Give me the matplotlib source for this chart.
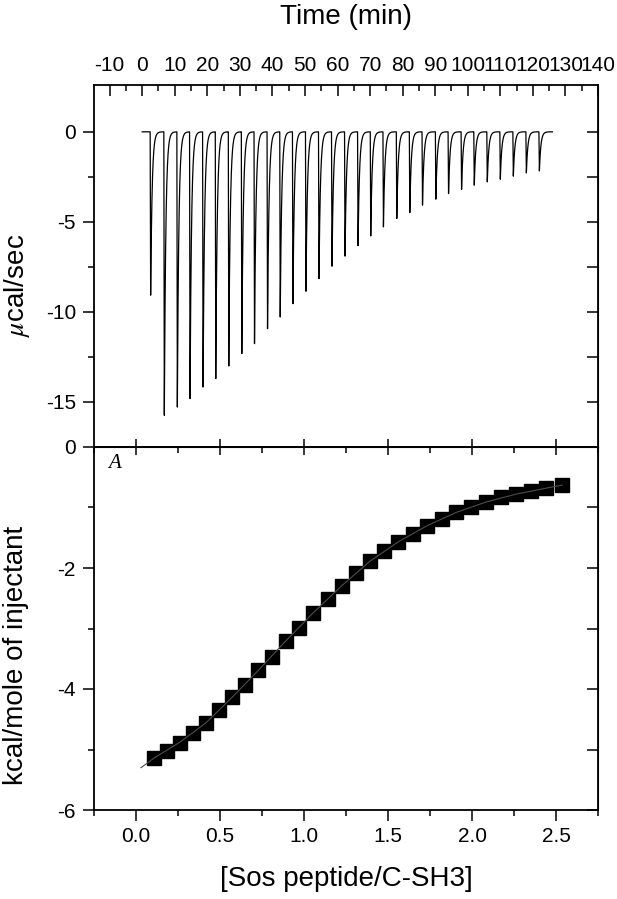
import numpy as np
import matplotlib
matplotlib.use("Agg")
import matplotlib.pyplot as plt
from matplotlib.ticker import MultipleLocator, FixedLocator

# raw ITC trace: injection times (min) and peak minima (ucal/sec)
inj_time = [2.6, 6.8, 10.8, 14.7, 18.7, 22.6, 26.6, 30.6, 34.5, 38.5, 42.4,
            46.3, 50.3, 54.3, 58.3, 62.3, 66.3, 70.2, 74.1, 78.2, 82.2, 86.1,
            90.2, 94.1, 98.1, 102.0, 106.0, 110.0, 114.0, 118.0, 122.0]
inj_peak = [-9.07, -15.74, -15.28, -14.81, -14.17, -13.70, -13.00, -12.31,
            -11.76, -10.93, -10.28, -9.54, -8.85, -8.15, -7.46, -6.90, -6.32,
            -5.78, -5.28, -4.81, -4.48, -4.07, -3.74, -3.43, -3.19, -2.96,
            -2.78, -2.63, -2.46, -2.28, -2.17]
baseline_start = 0.0
baseline_end = 126.0

# integrated heats
ratio = [0.108, 0.186, 0.261, 0.339, 0.416, 0.492, 0.571, 0.651, 0.729, 0.810,
         0.890, 0.971, 1.055, 1.143, 1.226, 1.309, 1.392, 1.475, 1.560, 1.648,
         1.733, 1.820, 1.907, 1.994, 2.083, 2.172, 2.261, 2.350, 2.442, 2.537]
heat = [-5.14, -5.02, -4.89, -4.73, -4.57, -4.35, -4.14, -3.93, -3.69, -3.47,
        -3.21, -2.99, -2.74, -2.52, -2.29, -2.08, -1.89, -1.72, -1.57, -1.43,
        -1.30, -1.19, -1.08, -1.00, -0.91, -0.83, -0.78, -0.72, -0.68, -0.63]

# fitted curve
fit_ratio = [0.03, 0.108, 0.261, 0.416, 0.571, 0.729, 0.890, 1.055, 1.226,
             1.392, 1.560, 1.733, 1.907, 2.083, 2.261, 2.442, 2.537]
fit_heat = [-5.30, -5.14, -4.88, -4.56, -4.14, -3.69, -3.21, -2.74, -2.29,
            -1.89, -1.57, -1.30, -1.08, -0.91, -0.78, -0.68, -0.63]

time_ticks = list(range(-10, 141, 10))

plt.rcParams['font.family'] = ['Liberation Sans', 'DejaVu Sans']
plt.rcParams['axes.unicode_minus'] = False
plt.rcParams['mathtext.fontset'] = 'stix'

fig = plt.figure(figsize=(6.17, 8.99), dpi=100)
W, H = 617.0, 899.0
left, right = 94, 598
ax1 = fig.add_axes([left / W, 1 - 447 / H, (right - left) / W, (447 - 85) / H])
ax2 = fig.add_axes([left / W, 1 - 810 / H, (right - left) / W, (810 - 447) / H])

# build the trace from the injection list
t = np.arange(baseline_start, baseline_end, 0.005)
trace = np.zeros_like(t)
for t0, h in zip(inj_time, inj_peak):
    rise = (t >= t0 - 0.15) & (t < t0)
    trace[rise] += h * (t[rise] - (t0 - 0.15)) / 0.15
    after = t >= t0
    trace[after] += h * np.exp(-(t[after] - t0) / 0.45)
ax1.plot(t, trace, color='k', lw=0.9)

tick_fs = 15
lab_fs = 20
major_len, minor_len = 8, 4

ax1.set_xlim(-14.8, 140)
ax1.set_ylim(-17.5, 2.6)
ax1.xaxis.tick_top()
ax1.xaxis.set_label_position('top')
ax1.set_xticks(time_ticks)
ax1.xaxis.set_minor_locator(MultipleLocator(5))
ax1.tick_params(axis='x', which='both', direction='in', top=True, bottom=False,
                labeltop=True, labelbottom=False, labelsize=tick_fs, pad=7.5)
ax1.tick_params(axis='x', which='major', length=major_len, width=1.1)
ax1.tick_params(axis='x', which='minor', length=minor_len, width=1.1)
ax1.set_yticks([0, -5, -10, -15])
ax1.yaxis.set_minor_locator(FixedLocator([-2.5, -7.5, -12.5]))
ax1.tick_params(axis='y', which='both', direction='out', left=True, right=False,
                labelsize=tick_fs, pad=5, width=1.1)
ax1.tick_params(axis='y', which='major', length=major_len)
ax1.tick_params(axis='y', which='minor', length=minor_len)
r1 = ax1.secondary_yaxis('right')
r1.set_yticks([0, -5, -10, -15])
r1.yaxis.set_minor_locator(FixedLocator([-2.5, -7.5, -12.5]))
r1.tick_params(axis='y', which='both', direction='in', labelright=False,
               length=major_len, width=1.1)
ax1.set_xlabel('Time (min)', fontsize=lab_fs, va='bottom')
ax1.xaxis.set_label_coords(0.5, 1 + (85 - 30) / 362.0)
ax1.set_ylabel(r'$\mathit{\mu}$cal/sec', fontsize=lab_fs, va='center', ha='center')
ax1.yaxis.set_label_coords((17 - left) / 504.0, (447 - 285) / 362.0)

# integrated heat panel
ax2.plot(ratio, heat, 's', color='k', ms=9.5, zorder=2)
ax2.plot(fit_ratio, fit_heat, color='0.3', lw=0.8, zorder=3)
ax2.set_xlim(-0.25, 2.75)
ax2.set_ylim(-6, 0)
ax2.set_xticks([0.0, 0.5, 1.0, 1.5, 2.0, 2.5])
ax2.set_xticklabels(['0.0', '0.5', '1.0', '1.5', '2.0', '2.5'])
ax2.xaxis.set_minor_locator(MultipleLocator(0.25))
ax2.tick_params(axis='x', which='both', direction='out', labelsize=tick_fs,
                pad=4, width=1.1)
ax2.tick_params(axis='x', which='major', length=major_len)
ax2.tick_params(axis='x', which='minor', length=minor_len)
ax2.set_yticks([0, -2, -4, -6])
ax2.yaxis.set_minor_locator(FixedLocator([-1, -3, -5]))
ax2.tick_params(axis='y', which='both', direction='out', labelsize=tick_fs,
                pad=5, width=1.1)
ax2.tick_params(axis='y', which='major', length=major_len)
ax2.tick_params(axis='y', which='minor', length=minor_len)
t2 = ax2.secondary_xaxis('top')
t2.set_xticks([0.0, 0.5, 1.0, 1.5, 2.0, 2.5])
t2.xaxis.set_minor_locator(MultipleLocator(0.25))
t2.tick_params(axis='x', which='major', direction='inout', labeltop=False,
               length=12, width=1.1)
t2.tick_params(axis='x', which='minor', direction='in', labeltop=False,
               length=minor_len, width=1.1)
r2 = ax2.secondary_yaxis('right')
r2.set_yticks([0, -2, -4, -6])
r2.yaxis.set_minor_locator(FixedLocator([-1, -3, -5]))
r2.tick_params(axis='y', which='both', direction='in', labelright=False,
               length=major_len, width=1.1)
ax2.set_xlabel('[Sos peptide/C-SH3]', fontsize=lab_fs, va='top')
ax2.xaxis.set_label_coords(0.5, (810 - 866) / 363.0)
ax2.set_ylabel('kcal/mole of injectant', fontsize=lab_fs, va='center', ha='center')
ax2.yaxis.set_label_coords((16 - left) / 504.0, (810 - 655) / 363.0)
ax2.text(0.028, 0.98, 'A', transform=ax2.transAxes, fontsize=15,
         family='Liberation Serif', style='italic', ha='left', va='top')

for ax in (ax1, ax2):
    for s in ax.spines.values():
        s.set_linewidth(1.3)

fig.savefig('out.png', dpi=100)
